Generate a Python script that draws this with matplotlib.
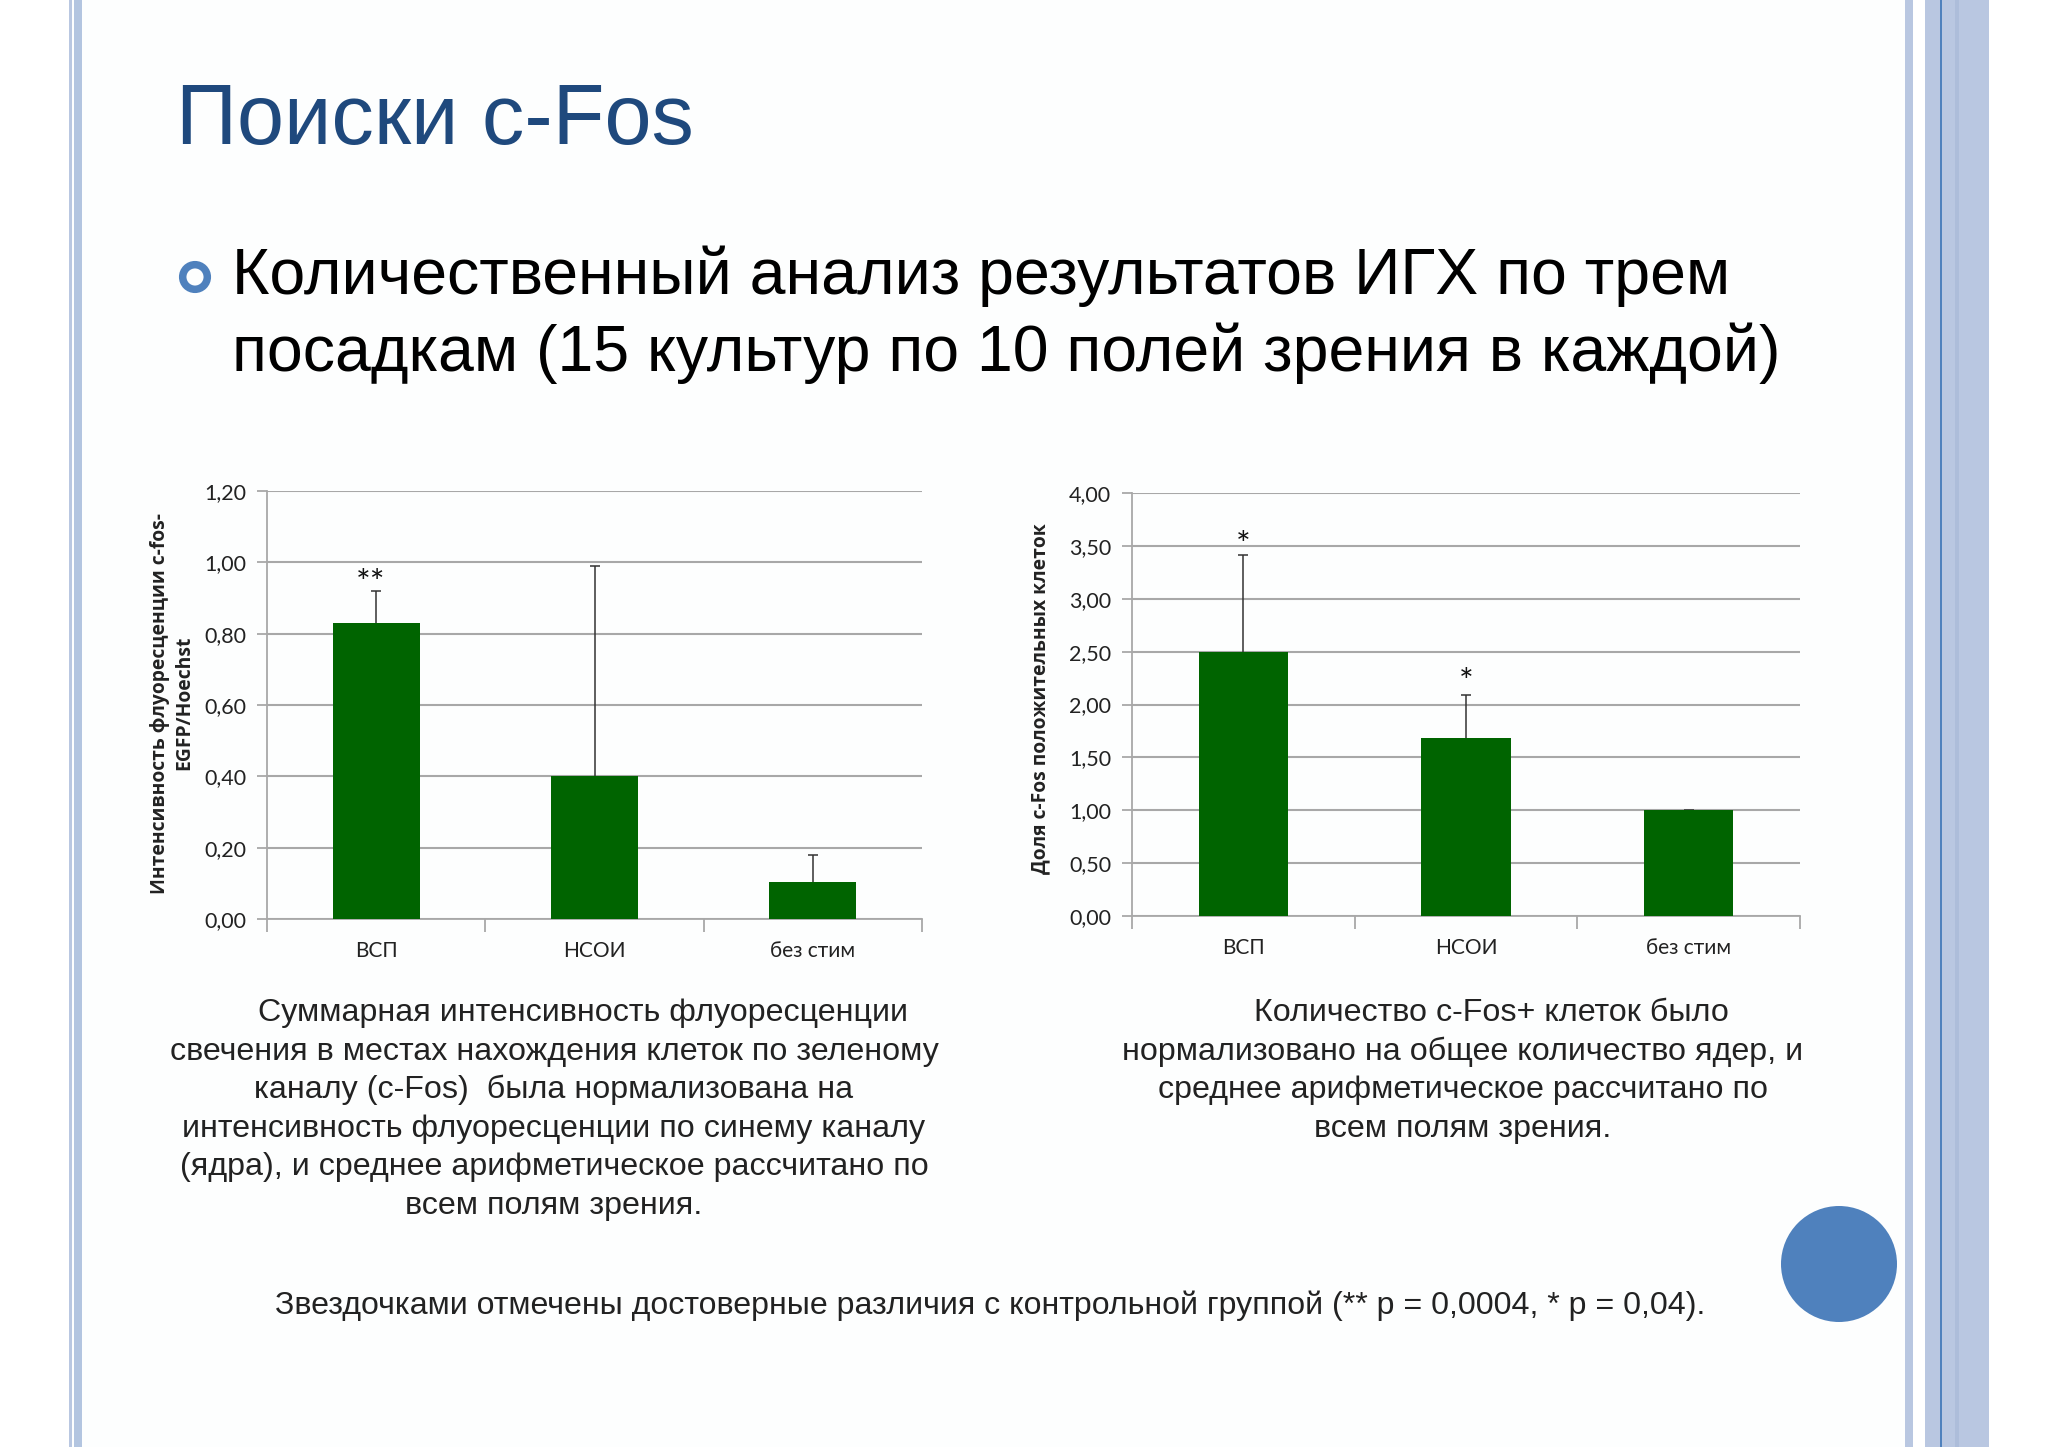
import matplotlib
matplotlib.use("Agg")
import matplotlib.pyplot as plt
from matplotlib.patches import Circle, Rectangle
from matplotlib.transforms import ScaledTranslation

W, H = 2048, 1447
BODY = ['Liberation Sans', 'DejaVu Sans']
CHART = ['Lato', 'Open Sans', 'DejaVu Sans']

categories = ['ВСП', 'НСОИ', 'без стим']

# left chart
left_values = [0.83, 0.40, 0.105]
left_err_tops = [0.92, 0.99, 0.18]
left_ticks = [0.0, 0.2, 0.4, 0.6, 0.8, 1.0, 1.2]
left_stars = ['**', '', '']
left_star_y = [0.94, 0, 0]

# right chart
right_values = [2.50, 1.68, 1.00]
right_err_tops = [3.41, 2.09, 1.005]
right_ticks = [0.0, 0.5, 1.0, 1.5, 2.0, 2.5, 3.0, 3.5, 4.0]
right_stars = ['*', '*', '']
right_star_y = [3.50, 2.20, 0]

left_para = [
    ('Суммарная интенсивность флуоресценции', 583, 1013),
    ('свечения в местах нахождения клеток по зеленому', 554, 1052),
    ('каналу (c-Fos)  была нормализована на', 554, 1090),
    ('интенсивность флуоресценции по синему каналу', 554, 1129),
    ('(ядра), и среднее арифметическое рассчитано по', 554, 1167),
    ('всем полям зрения.', 554, 1206),
]
right_para = [
    ('Количество c-Fos+ клеток было', 1491, 1013),
    ('нормализовано на общее количество ядер, и', 1463, 1052),
    ('среднее арифметическое рассчитано по', 1463, 1090),
    ('всем полям зрения.', 1463, 1129),
]


def draw_chart(box, values, tops, ticks, ymax, stars, star_y, star_shift, ylabel, ylabel_x, ylabel_up):
    x0, x1, ytop, ybot = box
    ax = fig.add_axes([x0 / W, 1 - ybot / H, (x1 - x0) / W, (ybot - ytop) / H])
    ax.patch.set_alpha(0)
    pos = [0.5, 1.5, 2.5]
    gray = '#a8a8a8'
    ax.bar(pos, values, width=0.4, color='#006400', zorder=3)
    # only upper whisker, the lower cap would poke out of the bar top
    eb = ax.errorbar(pos, values, yerr=[[0, 0, 0], [t - v for t, v in zip(tops, values)]],
                     fmt='none', ecolor='#333333', elinewidth=1.1, capsize=3.5, capthick=1.1, zorder=2)
    eb[1][0].set_visible(False)
    for p, s, y in zip(pos, stars, star_y):
        if s:
            ax.text(p + star_shift, y, s, ha='center', va='center', fontsize=25, color='#111111',
                    family=CHART)
    ax.set_xlim(0, 3)
    ax.set_ylim(0, ymax)
    ax.set_yticks(ticks)
    ax.set_yticklabels([f'{t:.2f}'.replace('.', ',') for t in ticks], family=CHART, fontsize=15.5,
                       color='#222222')
    # labels sit a touch above their gridlines in the original
    for lab in ax.get_yticklabels():
        lab.set_transform(lab.get_transform() + ScaledTranslation(0, 1.5 / 100, fig.dpi_scale_trans))
    ax.set_xticks([0, 1, 2, 3])
    ax.set_xticklabels([])
    ax.set_xticks(pos, minor=True)
    ax.set_xticklabels(categories, minor=True, family=CHART, fontsize=15, color='#222222')
    ax.tick_params(axis='x', which='minor', length=0, pad=16)
    ax.tick_params(axis='x', which='major', length=9, width=1.3, color=gray)
    ax.tick_params(axis='y', length=7, width=1.3, color=gray, pad=8)
    ax.grid(axis='y', color=gray, lw=1.5, zorder=1)
    ax.set_axisbelow(True)
    for side in ['top', 'right']:
        ax.spines[side].set_visible(False)
    for side in ['left', 'bottom']:
        ax.spines[side].set_color(gray)
        ax.spines[side].set_linewidth(1.3)
    fig.text(ylabel_x / W, 1 - ((ytop + ybot) / 2 - ylabel_up) / H, ylabel, rotation=90, ha='center', va='center',
             family=['Open Sans', 'DejaVu Sans'], fontweight='bold', fontsize=13.9, color='#222222',
             linespacing=1.3, multialignment='center')
    return ax


fig = plt.figure(figsize=(W / 100, H / 100), dpi=100, facecolor='white')

# slide background, stripes and circles in pixel coordinates
bg = fig.add_axes([0, 0, 1, 1])
bg.set_xlim(0, W)
bg.set_ylim(H, 0)
bg.axis('off')
stripe = '#b9c7e1'
bg.add_patch(Rectangle((72, 0), 1835, H, color='#fdfefe', lw=0))
bg.add_patch(Rectangle((69, 0), 3, H, color=stripe, lw=0))
bg.add_patch(Rectangle((74, 0), 8, H, color='#b3c5e0', lw=0))
bg.add_patch(Rectangle((1905, 0), 8, H, color=stripe, lw=0))
bg.add_patch(Rectangle((1913, 0), 12, H, color='white', lw=0))
bg.add_patch(Rectangle((1925, 0), 64, H, color=stripe, lw=0))
bg.add_patch(Rectangle((1940, 0), 2, H, color='#4f81bd', lw=0))
bg.add_patch(Rectangle((1955, 0), 4, H, color='#adbdda', lw=0))
bg.add_patch(Circle((195, 277), 12.3, fc='none', ec='#4f81bd', lw=5.4))
bg.add_patch(Circle((1839, 1264), 58, fc='#4f81bd', lw=0))

bg.text(176, 122, 'Поиски c-Fos', family=BODY, fontsize=61, color='#1f497d', ha='left', va='center')
bg.text(232, 276, 'Количественный анализ результатов ИГХ по трем', family=BODY, fontsize=46.4,
        color='black', ha='left', va='center')
bg.text(232, 353, 'посадкам (15 культур по 10 полей зрения в каждой)', family=BODY, fontsize=46.4,
        color='black', ha='left', va='center')
for txt, x, y in left_para + right_para:
    bg.text(x, y, txt, family=BODY, fontsize=23.2, color='#222222', ha='center', va='center')
bg.text(990, 1306, 'Звездочками отмечены достоверные различия с контрольной группой (** p = 0,0004, * p = 0,04).',
        family=BODY, fontsize=23.15, color='#222222', ha='center', va='center')

draw_chart((267, 922, 491, 919), left_values, left_err_tops, left_ticks, 1.2, left_stars, left_star_y, -0.024,
           'Интенсивность флуоресценции c-fos-\nEGFP/Hoechst', 172, 2)
draw_chart((1132, 1800, 493, 916), right_values, right_err_tops, right_ticks, 4.0, right_stars, right_star_y, 0.0,
           'Доля c-Fos положительных клеток', 1040, 6)

fig.savefig('out.png', dpi=100)
